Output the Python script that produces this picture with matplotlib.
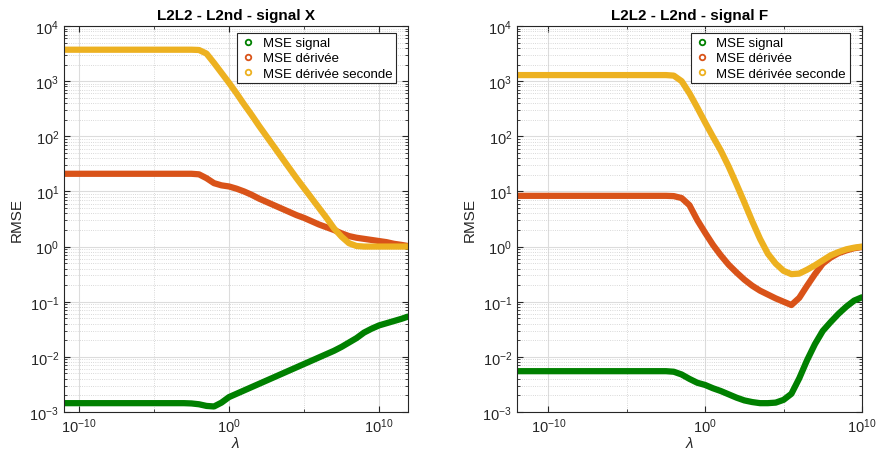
import matplotlib
matplotlib.use('Agg')
import matplotlib.pyplot as plt
from matplotlib.lines import Line2D
from matplotlib.ticker import LogLocator, FixedLocator, NullFormatter
import numpy as np

plt.rcParams['font.family'] = ['Liberation Sans', 'DejaVu Sans']
plt.rcParams['mathtext.fontset'] = 'custom'
plt.rcParams['mathtext.rm'] = 'Liberation Sans'
plt.rcParams['mathtext.it'] = 'Liberation Sans:italic'

# ---- data: log10(lambda) and log10(RMSE) ----
# left panel: signal X
x_signal_exp = [-11, -3, -2.5, -2, -1.5, -1, -0.5, 0, 0.5, 1, 1.5, 2, 2.5, 3, 3.5, 4,
                4.5, 5, 5.5, 6, 6.5, 7, 7.5, 8, 8.5, 9, 9.5, 10, 10.5, 11, 11.5, 11.93]
x_signal = [-2.84, -2.84, -2.845, -2.86, -2.89, -2.90, -2.83, -2.73, -2.67, -2.61,
            -2.55, -2.49, -2.43, -2.37, -2.31, -2.25, -2.19, -2.13, -2.07, -2.01,
            -1.95, -1.89, -1.82, -1.74, -1.66, -1.56, -1.49, -1.43, -1.39, -1.35,
            -1.31, -1.27]
x_deriv_exp = [-11, -2.5, -2, -1.5, -1, -0.5, 0, 0.5, 1, 1.5, 2, 2.5, 3, 3.5, 4, 4.5,
               5, 5.5, 6, 6.5, 7, 7.5, 8, 8.5, 9, 9.5, 10, 10.5, 11, 11.5, 11.93]
x_deriv = [1.32, 1.32, 1.31, 1.24, 1.15, 1.11, 1.09, 1.05, 1.00, 0.94, 0.87, 0.81,
           0.75, 0.69, 0.63, 0.57, 0.52, 0.46, 0.40, 0.35, 0.30, 0.24, 0.19, 0.16,
           0.14, 0.12, 0.10, 0.08, 0.05, 0.03, 0.01]
x_deriv2_exp = [-11, -2.5, -2, -1.5, -1, -0.5, 0, 0.5, 1, 1.5, 2, 2.5, 3, 3.5, 4, 4.5,
                5, 5.5, 6, 6.5, 7, 7.5, 8, 8.5, 9, 11.93]
x_deriv2 = [3.57, 3.57, 3.565, 3.50, 3.33, 3.15, 2.97, 2.78, 2.58, 2.39, 2.19, 2.00,
            1.81, 1.62, 1.43, 1.24, 1.06, 0.88, 0.70, 0.52, 0.33, 0.18, 0.06, 0.01,
            0.0, 0.0]

# right panel: signal F
f_exp = [-12, -2.5, -2, -1.5, -1, -0.5, 0, 0.5, 1, 1.5, 2, 2.5, 3, 3.5, 4, 4.5, 5,
         5.5, 6, 6.5, 7, 7.5, 8, 8.5, 9, 9.5, 10]
f_signal = [-2.26, -2.26, -2.27, -2.32, -2.40, -2.47, -2.51, -2.57, -2.62, -2.68,
            -2.74, -2.79, -2.82, -2.84, -2.84, -2.83, -2.78, -2.67, -2.39, -2.06,
            -1.77, -1.53, -1.37, -1.22, -1.09, -0.98, -0.92]
f_deriv = [0.92, 0.92, 0.915, 0.88, 0.75, 0.48, 0.25, 0.03, -0.16, -0.33, -0.47,
           -0.60, -0.71, -0.80, -0.87, -0.94, -1.00, -1.06, -0.93, -0.71, -0.50,
           -0.31, -0.20, -0.12, -0.07, -0.03, -0.01]
f_deriv2 = [3.11, 3.11, 3.10, 3.00, 2.78, 2.52, 2.25, 1.99, 1.74, 1.45, 1.13, 0.80,
            0.46, 0.14, -0.13, -0.31, -0.44, -0.50, -0.49, -0.42, -0.34, -0.25,
            -0.16, -0.10, -0.05, -0.02, 0.0]

labels = ['MSE signal', 'MSE dérivée', 'MSE dérivée seconde']
colors = ['#008000', '#D95319', '#EDB120']

panels = [
    ('L2L2 - L2nd - signal X',
     [(x_signal_exp, x_signal), (x_deriv_exp, x_deriv), (x_deriv2_exp, x_deriv2)],
     (1e-11, 10 ** 11.93)),
    ('L2L2 - L2nd - signal F',
     [(f_exp, f_signal), (f_exp, f_deriv), (f_exp, f_deriv2)],
     (1e-12, 1e10)),
]

fig = plt.figure(figsize=(8.81, 4.60), dpi=100)
positions = [[0.0726, 0.1022, 0.3905, 0.8391], [0.5868, 0.1022, 0.3916, 0.8391]]

for pos, (title, series, xlim) in zip(positions, panels):
    ax = fig.add_axes(pos)
    for (ex, vals), c in zip(series, colors):
        ax.plot(10.0 ** np.asarray(ex), 10.0 ** np.asarray(vals), '-', color=c,
                lw=4.5, solid_capstyle='round', solid_joinstyle='round')
    ax.set_xscale('log')
    ax.set_yscale('log')
    ax.set_xlim(*xlim)
    ax.set_ylim(1e-3, 1e4)

    ax.xaxis.set_major_locator(FixedLocator([1e-10, 1e0, 1e10]))
    ax.xaxis.set_minor_locator(FixedLocator([1e-5, 1e5]))
    ax.xaxis.set_minor_formatter(NullFormatter())
    ax.yaxis.set_major_locator(FixedLocator([10.0 ** k for k in range(-3, 5)]))
    ax.yaxis.set_minor_locator(FixedLocator([m * 10.0 ** k for k in range(-3, 4)
                                             for m in range(2, 10)]))
    ax.yaxis.set_minor_formatter(NullFormatter())

    ax.grid(True, which='major', color='#dcdcdc', lw=0.8, ls='-')
    ax.grid(True, which='minor', color='#cccccc', lw=0.6, ls=':')
    ax.set_axisbelow(True)
    ax.tick_params(which='both', direction='in', top=True, right=True,
                   colors='#262626', labelsize=10.5)
    ax.tick_params(which='minor', labelleft=False, labelbottom=False)
    ax.tick_params(which='major', length=4)
    ax.tick_params(which='minor', length=2)
    for s in ax.spines.values():
        s.set_color('#262626')
        s.set_linewidth(0.8)

    ax.set_title(title, fontsize=11, fontweight='bold', pad=5)
    ax.set_ylabel('RMSE', fontsize=11, color='#262626')
    ax.set_xlabel(r'$\lambda$', fontsize=11, color='#262626', labelpad=0)

    handles = [Line2D([], [], ls='none', marker='o', ms=4, mfc='none',
                      mec=c, mew=1.3) for c in colors]
    leg = ax.legend(handles, labels, loc='upper right', fontsize=9.5,
                    bbox_to_anchor=(0.977, 0.992), borderaxespad=0.3,
                    handlelength=1.0, handletextpad=0.6, labelspacing=0.22,
                    borderpad=0.3, fancybox=False, framealpha=1)
    leg.get_frame().set_edgecolor('#262626')
    leg.get_frame().set_linewidth(0.8)

fig.savefig('out.png', dpi=100)
